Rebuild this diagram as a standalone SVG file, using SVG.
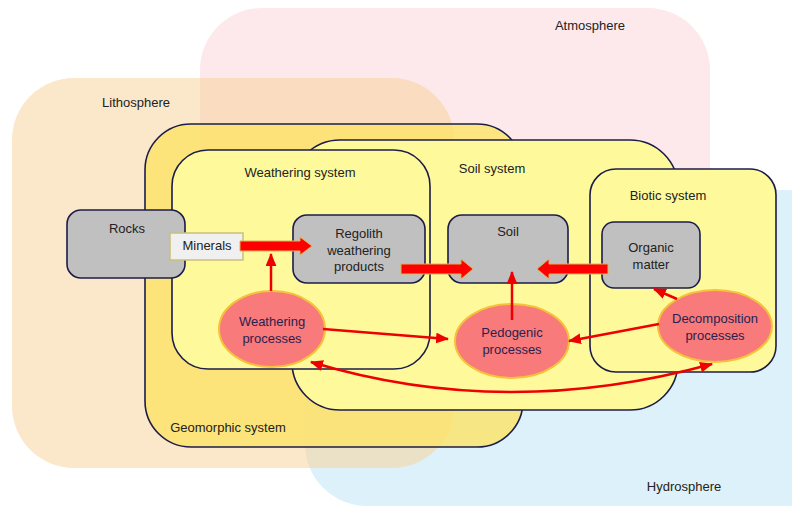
<svg xmlns="http://www.w3.org/2000/svg" width="792" height="507" viewBox="0 0 792 507">
  <style>
    text { font-family: "Liberation Sans", Arial, sans-serif; font-size: 13px; fill: #222; text-anchor: middle; }
    .sys { fill: #fefa9c; stroke: #1c1c4a; stroke-width: 1.6; }
    .box { fill: #c0c0c0; stroke: #1c1c4a; stroke-width: 1.6; }
    .proc { fill: #f87a7a; stroke: #f5c23a; stroke-width: 2; }
    .proc-label { fill: #2a1f4f; }
    .flow { fill: #ff0000; stroke: #d9b55a; stroke-width: 1; }
    .link { fill: none; stroke: #ee0000; stroke-width: 2.5; }
  </style>
  <defs>
    <marker id="head" viewBox="0 0 12 10" refX="11" refY="5" markerUnits="userSpaceOnUse" markerWidth="13" markerHeight="11" orient="auto-start-reverse">
      <path d="M0,0 L12,5 L0,10 Z" fill="#ee0000"/>
    </marker>
  </defs>

  <rect width="792" height="507" fill="#ffffff"/>

  <!-- spheres -->
  <g id="hydrosphere">
    <rect x="305" y="190" width="560" height="316" rx="62" fill="#c4e8f7" opacity="0.6"/>
    <text x="684" y="491">Hydrosphere</text>
  </g>
  <g id="atmosphere">
    <rect x="200" y="8" width="510" height="358" rx="62" fill="#fbd6da" opacity="0.55"/>
    <text x="590" y="30">Atmosphere</text>
  </g>
  <g id="lithosphere">
    <rect x="12" y="78" width="442" height="390" rx="62" fill="#f8d49c" opacity="0.55"/>
    <text x="136" y="107">Lithosphere</text>
  </g>

  <!-- nested systems -->
  <g id="geomorphic-system">
    <rect x="145" y="124" width="378" height="323" rx="46" fill="#fde466" fill-opacity="0.8" stroke="#1c1c4a" stroke-width="1.6"/>
    <text x="228" y="432">Geomorphic system</text>
  </g>
  <g id="soil-system">
    <rect class="sys" x="292" y="140" width="386" height="270" rx="48"/>
    <text x="492" y="173">Soil system</text>
  </g>
  <g id="weathering-system">
    <rect class="sys" x="172" y="150" width="258" height="219" rx="36"/>
    <text x="300" y="177">Weathering system</text>
  </g>
  <g id="biotic-system">
    <rect class="sys" x="590" y="169" width="186" height="203" rx="26"/>
    <text x="668" y="200">Biotic system</text>
  </g>

  <!-- stores -->
  <g id="rocks">
    <rect class="box" x="67" y="210" width="118" height="68" rx="14"/>
    <text x="127" y="233">Rocks</text>
  </g>
  <g id="minerals">
    <rect x="170" y="233" width="73" height="27" fill="#f0f0f0" stroke="#c9c07a" stroke-width="1.5"/>
    <text x="207" y="250">Minerals</text>
  </g>
  <g id="regolith">
    <rect class="box" x="293" y="215" width="132" height="68" rx="14"/>
    <text x="359" y="238">Regolith</text>
    <text x="359" y="255">weathering</text>
    <text x="359" y="271">products</text>
  </g>
  <g id="soil">
    <rect class="box" x="448" y="215" width="120" height="68" rx="14"/>
    <text x="508" y="236">Soil</text>
  </g>
  <g id="organic-matter">
    <rect class="box" x="602" y="222" width="98" height="66" rx="12"/>
    <text x="651" y="252">Organic</text>
    <text x="651" y="269">matter</text>
  </g>

  <!-- processes -->
  <g id="weathering-processes">
    <ellipse class="proc" cx="272" cy="329" rx="53" ry="38"/>
    <text class="proc-label" x="272" y="326">Weathering</text>
    <text class="proc-label" x="272" y="343">processes</text>
  </g>
  <g id="pedogenic-processes">
    <ellipse class="proc" cx="512" cy="341" rx="57" ry="37"/>
    <text class="proc-label" x="512" y="337">Pedogenic</text>
    <text class="proc-label" x="512" y="354">processes</text>
  </g>
  <g id="decomposition-processes">
    <ellipse class="proc" cx="715" cy="326" rx="57" ry="36"/>
    <text class="proc-label" x="715" y="323">Decomposition</text>
    <text class="proc-label" x="715" y="340">processes</text>
  </g>

  <!-- connectors -->
  <g id="connectors">
    <path class="flow" d="M240,241 L300,241 L300,237 L312,246 L300,255 L300,251 L240,251 Z"/>
    <path class="flow" d="M401,264 L461,264 L461,259 L473,269 L461,279 L461,274 L401,274 Z"/>
    <path class="flow" d="M608,264 L549,264 L549,259 L537,269 L549,279 L549,274 L608,274 Z"/>
    <path class="link" d="M271,291 L271,254" marker-end="url(#head)"/>
    <path class="link" d="M512,320 L512,272" marker-end="url(#head)"/>
    <path class="link" d="M323,329 L448,339" marker-end="url(#head)"/>
    <path class="link" d="M659,324 L569,341" marker-end="url(#head)"/>
    <path class="link" d="M677,299 L654,289" marker-end="url(#head)"/>
    <path class="link" d="M311,362 Q505,421 712,364" marker-start="url(#head)" marker-end="url(#head)"/>
  </g>
</svg>
